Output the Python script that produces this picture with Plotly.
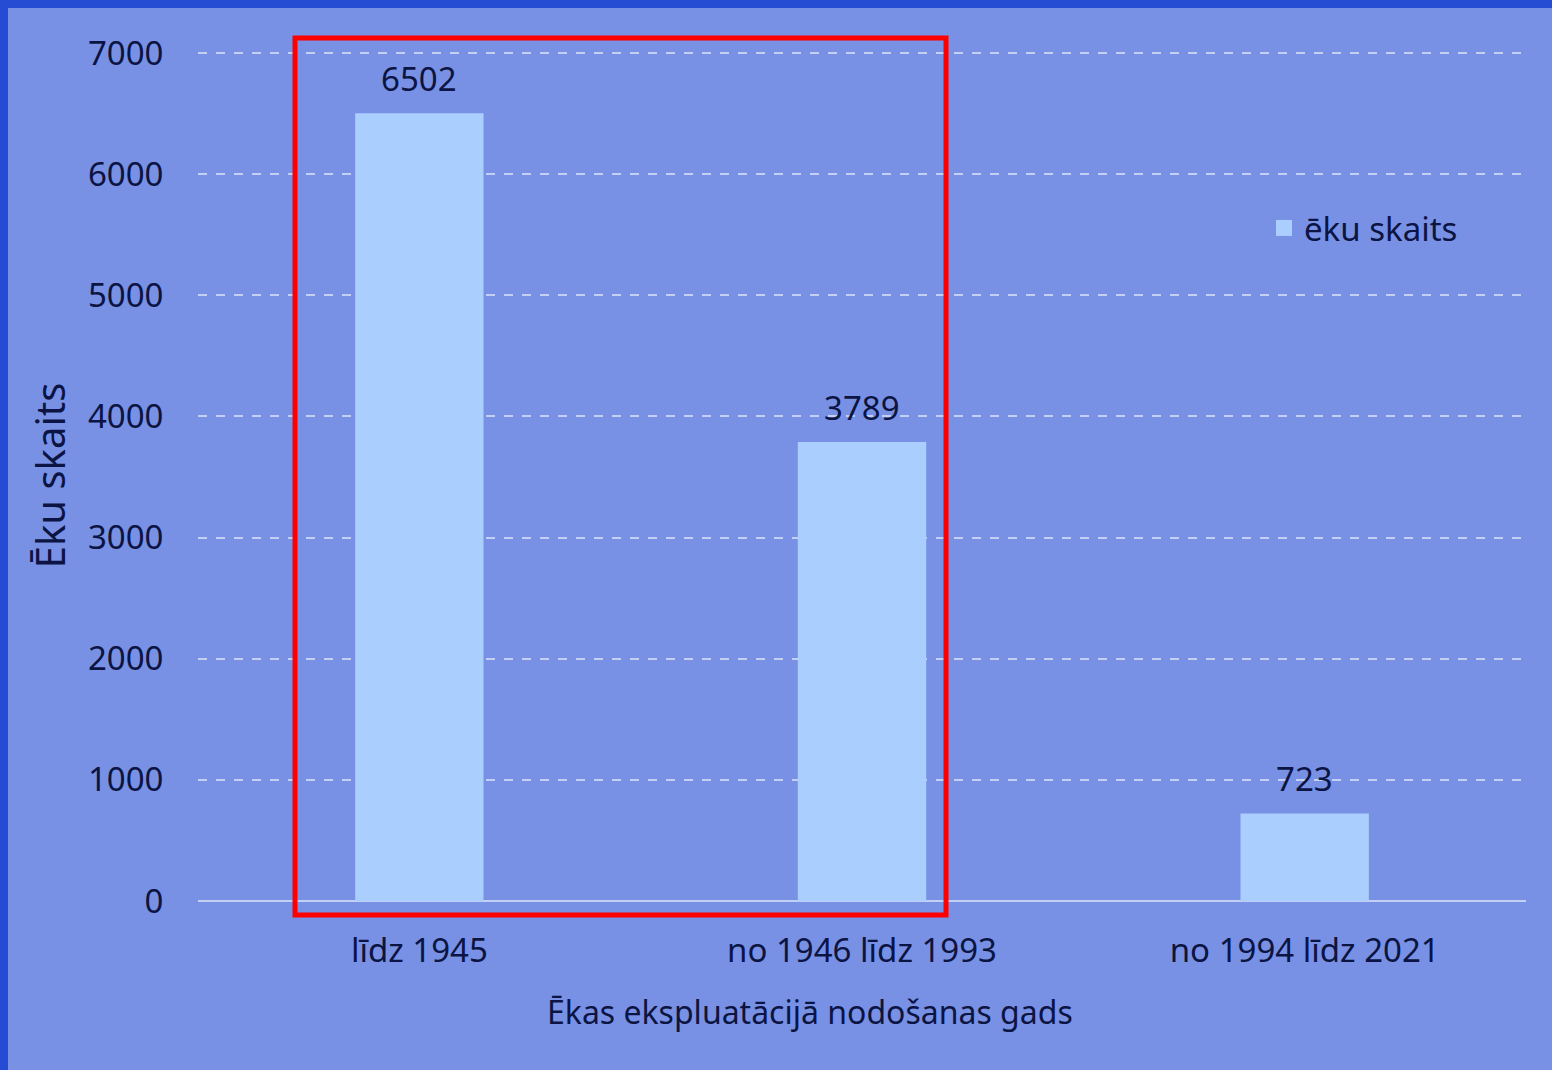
import plotly.graph_objects as go

categories = ["līdz 1945", "no 1946 līdz 1993", "no 1994 līdz 2021"]
values = [6502, 3789, 723]
series_name = "ēku skaits"
y_ticks = [0, 1000, 2000, 3000, 4000, 5000, 6000, 7000]
x_title = "Ēkas ekspluatācijā nodošanas gads"
y_title = "Ēku skaits"

W, H = 1552, 1070
ML, MR, MT, MB = 198, 26, 50, 169
PW, PH = W - ML - MR, H - MT - MB
Y_TOP = 7000 * PH / 848.0  # so that 7000 lands at y=53 px

def px_x(p):
    return (p - ML) / PW

def px_y(p):
    return (H - MB - p) / PH

BG = "#7891E5"
BORDER = "#264CD4"
BAR = "#AACEFD"
TXT = "#0B1443"
GRID = "#C3D0F5"
FONT = "Noto Sans"
FS = 33

fig = go.Figure()
fig.add_trace(go.Bar(
    x=categories, y=values, name=series_name,
    marker=dict(color=BAR, line=dict(width=0)),
    showlegend=False, hoverinfo="x+y",
))
fig.add_trace(go.Scatter(
    x=[None], y=[None], mode="markers", name=series_name,
    marker=dict(symbol="square", size=20, color=BAR, line=dict(width=0)),
    showlegend=True,
))

annotations = [
    dict(x=c, y=v, xref="x", yref="y", text=str(v), showarrow=False,
         yanchor="bottom", yshift=10, font=dict(size=FS, color=TXT, family=FONT))
    for c, v in zip(categories, values)
]
annotations.append(dict(
    x=px_x(810), y=px_y(1012), xref="paper", yref="paper", text=x_title,
    showarrow=False, xanchor="center", yanchor="middle",
    font=dict(size=32, color=TXT, family=FONT),
))

fig.update_layout(
    width=W, height=H,
    margin=dict(l=ML, r=MR, t=MT, b=MB),
    paper_bgcolor=BG, plot_bgcolor=BG,
    font=dict(family=FONT, color=TXT, size=FS),
    bargap=0.71,
    showlegend=True,
    legend=dict(x=px_x(1264), y=px_y(228), xanchor="left", yanchor="middle",
                bgcolor="rgba(0,0,0,0)", font=dict(size=FS, color=TXT, family=FONT),
                itemwidth=30),
    annotations=annotations,
    xaxis=dict(
        tickfont=dict(size=FS, color=TXT),
        ticks="outside", ticklen=20, tickcolor="rgba(0,0,0,0)",
        showgrid=False, showline=False,
    ),
    yaxis=dict(
        title=dict(text=y_title, font=dict(size=40, color=TXT), standoff=9),
        range=[0, Y_TOP], tickvals=y_ticks,
        tickfont=dict(size=FS, color=TXT),
        ticks="outside", ticklen=27, tickcolor="rgba(0,0,0,0)",
        showgrid=True, gridcolor=GRID, gridwidth=1.5, griddash="dash",
        zeroline=True, zerolinecolor=GRID, zerolinewidth=2,
        showline=False,
    ),
    shapes=[
        dict(type="rect", xref="paper", yref="paper",
             x0=px_x(295), x1=px_x(946), y0=px_y(38), y1=px_y(915),
             line=dict(color="#FF0000", width=5), fillcolor="rgba(0,0,0,0)", layer="above"),
        dict(type="rect", xref="paper", yref="paper",
             x0=px_x(0), x1=px_x(8), y0=px_y(0), y1=px_y(H),
             line=dict(width=0), fillcolor=BORDER, layer="above"),
        dict(type="rect", xref="paper", yref="paper",
             x0=px_x(0), x1=px_x(W), y0=px_y(0), y1=px_y(8),
             line=dict(width=0), fillcolor=BORDER, layer="above"),
    ],
)

fig.write_html("out.html", config={"displayModeBar": False},
               post_script="document.body.style.margin='0';document.body.style.overflow='hidden';")
